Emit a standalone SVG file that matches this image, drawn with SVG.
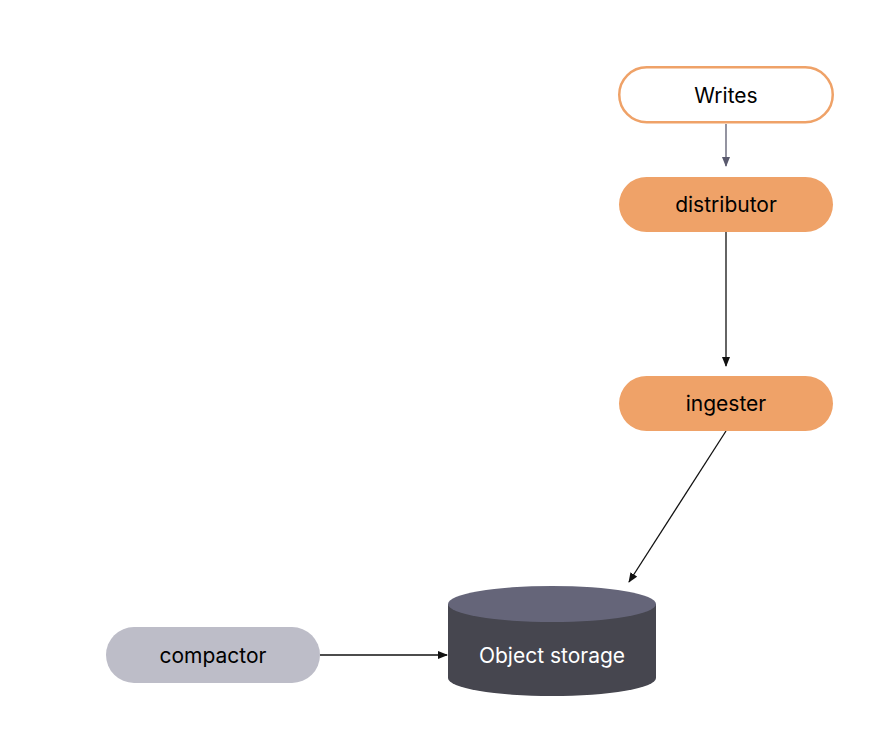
<svg xmlns="http://www.w3.org/2000/svg" width="878" height="742" viewBox="0 0 878 742">
<style>
.lbl{font-family:Inter,"Noto Sans",sans-serif;font-size:21px;text-anchor:middle;dominant-baseline:central;fill:#000}
.orange{fill:#EFA268}
.edge{fill:none;stroke:#111;stroke-width:1.3}
</style>
<defs>
<marker id="ah" markerWidth="10" markerHeight="8" refX="9" refY="4" orient="auto" markerUnits="userSpaceOnUse"><path d="M0,0L10,4L0,8z" fill="#111"/></marker>
<marker id="ahg" markerWidth="10" markerHeight="8" refX="9" refY="4" orient="auto" markerUnits="userSpaceOnUse"><path d="M0,0L10,4L0,8z" fill="#5A5A6E"/></marker>
</defs>
<rect width="878" height="742" fill="#fff"/>
<g id="connectors">
<line x1="726" y1="124" x2="726" y2="166" stroke="#5A5A6E" stroke-width="1.3" marker-end="url(#ahg)"/>
<line class="edge" x1="726" y1="232" x2="726" y2="366" marker-end="url(#ah)"/>
<line class="edge" x1="726" y1="431" x2="629" y2="582" marker-end="url(#ah)"/>
<line class="edge" x1="320" y1="655" x2="447" y2="655" marker-end="url(#ah)"/>
</g>
<g id="writes">
<rect x="619.25" y="67.25" width="213.5" height="55" rx="27.5" fill="#fff" stroke="#EFA268" stroke-width="2.5"/>
<text class="lbl" x="726" y="95">Writes</text>
</g>
<g id="distributor">
<rect class="orange" x="619" y="177" width="214" height="55" rx="27.5"/>
<text class="lbl" x="726" y="204.5">distributor</text>
</g>
<g id="ingester">
<rect class="orange" x="619" y="376" width="214" height="55" rx="27.5"/>
<text class="lbl" x="726" y="403.5">ingester</text>
</g>
<g id="object-storage">
<path d="M448,604 L448,678 A104,18 0 0 0 656,678 L656,604 z" fill="#46464F"/>
<ellipse cx="552" cy="604" rx="104" ry="18" fill="#656579"/>
<text class="lbl" x="552" y="655" style="fill:#fff">Object storage</text>
</g>
<g id="compactor">
<rect x="106" y="627" width="214" height="56" rx="28" fill="#BDBDC8"/>
<text class="lbl" x="213" y="655">compactor</text>
</g>
</svg>
